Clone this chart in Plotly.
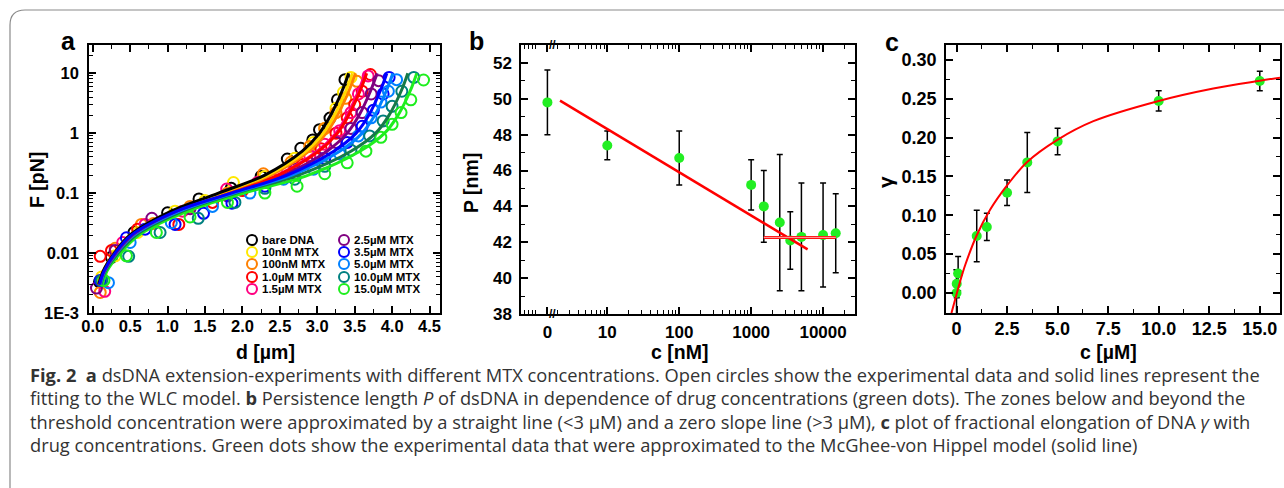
import plotly.graph_objects as go

W, H = 1284, 488

# ---- panel a: force-extension data (d in um, F in pN) ----
labels_a = ['bare DNA', '10nM MTX', '100nM MTX', '1.0µM MTX', '1.5µM MTX',
            '2.5µM MTX', '3.5µM MTX', '5.0µM MTX', '10.0µM MTX', '15.0µM MTX']
circle_colors = ['#000000', '#FFE800', '#FF8000', '#FF0000', '#FF0080',
                 '#800080', '#0000FF', '#0080FF', '#008080', '#1EEE1E']
fit_colors = ['#000000', '#FFD800', '#FF8000', '#FF0000', '#FF0080',
              '#800080', '#0000FF', '#0080FF', '#167A48', '#1EEE1E']

fit_force = [0.003, 0.005, 0.01, 0.02, 0.05, 0.1, 0.2, 0.5, 1, 2, 5, 10]
fit_bare = [0.08, 0.14, 0.29, 0.50, 1.05, 1.68, 2.30, 2.80, 3.03, 3.18, 3.33, 3.42]
fit_10nm = [0.08, 0.14, 0.29, 0.50, 1.06, 1.70, 2.34, 2.85, 3.08, 3.23, 3.38, 3.47]
fit_100nm = [0.08, 0.14, 0.29, 0.51, 1.07, 1.72, 2.38, 2.89, 3.12, 3.27, 3.42, 3.51]
fit_1um = [0.08, 0.15, 0.30, 0.52, 1.10, 1.78, 2.48, 3.02, 3.27, 3.42, 3.57, 3.66]
fit_1_5um = [0.08, 0.15, 0.30, 0.52, 1.10, 1.78, 2.47, 3.00, 3.25, 3.40, 3.55, 3.64]
fit_2_5um = [0.09, 0.15, 0.31, 0.53, 1.12, 1.82, 2.55, 3.13, 3.40, 3.56, 3.71, 3.80]
fit_3_5um = [0.09, 0.15, 0.30, 0.52, 1.12, 1.85, 2.60, 3.22, 3.52, 3.69, 3.84, 3.93]
fit_5um = [0.10, 0.16, 0.32, 0.55, 1.16, 1.88, 2.66, 3.30, 3.60, 3.77, 3.92, 4.01]
fit_10um = [0.11, 0.17, 0.34, 0.58, 1.20, 1.92, 2.75, 3.45, 3.78, 3.96, 4.12, 4.21]
fit_15um = [0.13, 0.19, 0.37, 0.62, 1.27, 2.02, 2.88, 3.57, 3.90, 4.08, 4.24, 4.33]

d_bare = [0.09, 0.25, 0.55, 1.0, 1.42, 1.85, 2.25, 2.6, 2.78, 2.94, 3.03, 3.17, 3.27, 3.37]
f_bare = [0.0033, 0.0085, 0.022, 0.047, 0.08, 0.12, 0.19, 0.37, 0.56, 0.77, 1.14, 1.78, 3.6, 7.8]
d_10nm = [0.12, 0.3, 0.6, 1.1, 1.5, 1.88, 2.3, 2.7, 2.95, 3.1, 3.25, 3.35, 3.45]
f_10nm = [0.004, 0.009, 0.022, 0.05, 0.075, 0.15, 0.19, 0.38, 0.7, 1.2, 2.6, 4.8, 8.5]
d_100nm = [0.1, 0.3, 0.65, 0.81, 1.3, 1.8, 2.28, 2.65, 2.9, 3.1, 3.25, 3.38, 3.53]
f_100nm = [0.0022, 0.012, 0.03, 0.031, 0.06, 0.1, 0.21, 0.33, 0.6, 1.2, 2.2, 3.8, 7.3]
d_1um = [0.1, 0.25, 0.6, 1.15, 1.6, 2.0, 2.4, 2.8, 3.05, 3.25, 3.4, 3.5, 3.6, 3.71]
f_1um = [0.0088, 0.011, 0.025, 0.030, 0.07, 0.11, 0.17, 0.3, 0.55, 1.0, 1.8, 3.0, 5.0, 9.5]
d_1_5um = [0.16, 0.4, 0.7, 1.2, 1.79, 2.2, 2.6, 2.9, 3.1, 3.3, 3.45, 3.55, 3.68]
f_1_5um = [0.0023, 0.015, 0.03, 0.05, 0.117, 0.15, 0.24, 0.42, 0.65, 1.1, 2.2, 4.5, 9.0]
d_2_5um = [0.05, 0.3, 0.79, 1.3, 1.8, 2.3, 2.7, 3.0, 3.25, 3.45, 3.6, 3.72, 3.82]
f_2_5um = [0.0026, 0.011, 0.038, 0.055, 0.09, 0.15, 0.25, 0.4, 0.7, 1.2, 2.2, 4.5, 7.5]
d_3_5um = [0.1, 0.45, 0.7, 1.1, 1.48, 1.86, 2.3, 2.7, 3.1, 3.4, 3.6, 3.75, 3.88, 3.96]
f_3_5um = [0.0035, 0.018, 0.025, 0.03, 0.046, 0.068, 0.13, 0.21, 0.38, 0.7, 1.3, 2.4, 4.5, 8.5]
d_5um = [0.21, 0.5, 1.05, 1.6, 2.1, 2.55, 2.95, 3.3, 3.55, 3.72, 3.85, 3.95, 4.06]
f_5um = [0.0032, 0.015, 0.032, 0.06, 0.1, 0.17, 0.25, 0.45, 0.9, 1.8, 3.3, 5.0, 7.8]
d_10um = [0.12, 0.48, 0.9, 1.41, 1.9, 2.3, 2.7, 3.1, 3.45, 3.7, 3.88, 4.0, 4.13, 4.29]
f_10um = [0.0035, 0.0088, 0.022, 0.038, 0.07, 0.12, 0.17, 0.28, 0.52, 0.9, 1.6, 2.8, 5.0, 8.5]
d_15um = [0.15, 0.45, 0.85, 1.3, 1.8, 2.3, 2.73, 3.1, 3.4, 3.65, 3.85, 4.0, 4.12, 4.25, 4.42]
f_15um = [0.0035, 0.009, 0.022, 0.04, 0.07, 0.1, 0.13, 0.21, 0.32, 0.5, 0.85, 1.4, 2.2, 3.6, 7.7]

# ---- panel b: persistence length vs concentration (nM) ----
p_conc = [0, 10, 100, 1000, 1500, 2500, 3500, 5000, 10000, 15000]
p_val = [49.8, 47.4, 46.7, 45.2, 44.0, 43.1, 42.1, 42.3, 42.4, 42.5]
p_err = [1.8, 0.8, 1.5, 1.4, 2.0, 3.8, 1.6, 3.0, 2.9, 2.2]
slope_c = [2.2, 6100]
slope_p = [49.9, 41.6]
plateau_c = [1500, 15000]
plateau_p = [42.27, 42.27]
b_ticks = [0, 10, 100, 1000, 10000]

# ---- panel c: fractional elongation vs concentration (uM) ----
g_conc = [0, 0.01, 0.08, 1.0, 1.5, 2.5, 3.5, 5.0, 10.0, 15.0]
g_val = [0.000, 0.012, 0.025, 0.0733, 0.085, 0.129, 0.168, 0.195, 0.247, 0.2726]
g_err = [0.03, 0.018, 0.022, 0.033, 0.0176, 0.0163, 0.0386, 0.017, 0.013, 0.0126]
mvh_c = [-0.25, -0.115, 0.0, 0.18, 0.43, 0.99, 1.66, 2.49, 3.47, 4.99, 6.77, 10.0, 12.7, 15.0, 16.0]
mvh_g = [-0.0257, -0.0129, -0.002, 0.015, 0.036, 0.0737, 0.107, 0.138, 0.168, 0.197, 0.221, 0.247, 0.263, 0.273, 0.277]

ZERO_POS = 1.47  # where the "0" category sits left of the axis break

circles = [(d_bare, f_bare), (d_10nm, f_10nm), (d_100nm, f_100nm), (d_1um, f_1um),
           (d_1_5um, f_1_5um), (d_2_5um, f_2_5um), (d_3_5um, f_3_5um), (d_5um, f_5um),
           (d_10um, f_10um), (d_15um, f_15um)]
fits = [fit_bare, fit_10nm, fit_100nm, fit_1um, fit_1_5um, fit_2_5um, fit_3_5um,
        fit_5um, fit_10um, fit_15um]

fig = go.Figure()

for (dx, fy), col in zip(circles, circle_colors):
    fig.add_trace(go.Scatter(x=dx, y=fy, mode='markers', xaxis='x', yaxis='y',
                             marker=dict(symbol='circle-open', size=11, color=col,
                                         line=dict(width=2, color=col))))
for i in [9, 8, 7, 5, 4, 3, 2, 1, 0, 6]:
    fig.add_trace(go.Scatter(x=fits[i], y=fit_force, mode='lines', xaxis='x', yaxis='y',
                             line=dict(color=fit_colors[i], width=3, shape='spline')))

green = '#22EE22'
p_x = [ZERO_POS if c == 0 else c for c in p_conc]
fig.add_trace(go.Scatter(x=p_x, y=p_val, mode='markers', xaxis='x2', yaxis='y2',
                         marker=dict(size=10, color=green),
                         error_y=dict(type='data', array=p_err, color='black',
                                      thickness=1.5, width=3)))
fig.add_trace(go.Scatter(x=slope_c, y=slope_p, mode='lines', xaxis='x2', yaxis='y2',
                         line=dict(color='#FF0000', width=2.5)))
# plateau drawn as a thin double line, like the original
fig.add_trace(go.Scatter(x=plateau_c, y=plateau_p, mode='lines', xaxis='x2', yaxis='y2',
                         line=dict(color='#FF1010', width=3)))
fig.add_trace(go.Scatter(x=plateau_c, y=plateau_p, mode='lines', xaxis='x2', yaxis='y2',
                         line=dict(color='#FFA0A0', width=1)))

fig.add_trace(go.Scatter(x=g_conc, y=g_val, mode='markers', xaxis='x3', yaxis='y3',
                         marker=dict(size=10, color=green),
                         error_y=dict(type='data', array=g_err, color='black',
                                      thickness=1.5, width=3)))
fig.add_trace(go.Scatter(x=mvh_c, y=mvh_g, mode='lines', xaxis='x3', yaxis='y3',
                         line=dict(color='#FF0000', width=2, shape='spline')))


def px_x(x):
    return x / W


def px_y(y):
    return 1 - y / H


def tick_font(size):
    return dict(family='Liberation Sans', size=size, color='black', weight='bold')


axis_style = dict(showline=True, linecolor='black', linewidth=1.5, mirror='allticks',
                  ticks='inside', ticklen=7, tickwidth=1.5, tickcolor='black',
                  showgrid=False, zeroline=False, automargin=False)
minor_style = dict(ticks='inside', ticklen=4, tickwidth=1.2, tickcolor='black', showgrid=False)

fig.update_layout(
    width=W, height=H, margin=dict(l=0, r=0, t=0, b=0, autoexpand=False),
    paper_bgcolor='white', plot_bgcolor='white', showlegend=False,
    xaxis=dict(domain=[px_x(89), px_x(440)], anchor='y', range=[-0.05, 4.64],
               dtick=0.5, tick0=0, tickformat='.1f', ticklabelstandoff=-3,
               tickfont=tick_font(16.5),
               minor=dict(dtick=0.25, **minor_style), **axis_style),
    yaxis=dict(domain=[px_y(313), px_y(45)], anchor='x', type='log', range=[-3, 1.47],
               tickmode='array', tickvals=[0.001, 0.01, 0.1, 1, 10],
               ticktext=['1E-3', '0.01', '0.1', '1', '10'], ticklabelstandoff=5,
               tickfont=tick_font(16.5),
               minor=dict(dtick='D1', **minor_style), **axis_style),
    xaxis2=dict(domain=[px_x(521), px_x(855)], anchor='y2', type='log', range=[-0.2, 4.444],
                tickmode='array', tickvals=[ZERO_POS if t == 0 else t for t in b_ticks],
                ticktext=[str(t) for t in b_ticks], ticklabelstandoff=2,
                tickfont=tick_font(17),
                minor=dict(dtick='D1', **minor_style), **axis_style),
    yaxis2=dict(domain=[px_y(314), px_y(45)], anchor='x2', range=[38, 53],
                dtick=2, tick0=38, ticklabelstandoff=4, tickfont=tick_font(17),
                minor=dict(dtick=1, **minor_style), **axis_style),
    xaxis3=dict(domain=[px_x(946), px_x(1280)], anchor='y3', range=[-0.52, 16.0],
                tickmode='array', tickvals=[0, 2.5, 5, 7.5, 10, 12.5, 15],
                ticktext=['0', '2.5', '5.0', '7.5', '10.0', '12.5', '15.0'], ticklabelstandoff=-1,
                tickfont=tick_font(18),
                minor=dict(dtick=1.25, tick0=0, **minor_style), **axis_style),
    yaxis3=dict(domain=[px_y(313), px_y(45)], anchor='x3', range=[-0.0257, 0.319],
                dtick=0.05, tick0=0, tickformat='.2f', ticklabelstandoff=4,
                tickfont=tick_font(18),
                minor=dict(dtick=0.025, tick0=0, **minor_style), **axis_style),
)

ann = []
bold = dict(family='Liberation Sans', color='black', weight='bold')


def label(x, y, text, size, angle=0):
    ann.append(dict(x=px_x(x), y=px_y(y), xref='paper', yref='paper', text=text,
                    showarrow=False, textangle=angle, xanchor='center', yanchor='middle',
                    font=dict(size=size, **bold)))


label(68, 41, 'a', 25)
label(476, 41, 'b', 25)
label(892, 42, 'c', 25)
label(265, 352, 'd [µm]', 19.5)
label(37, 180, 'F [pN]', 19.5, -90)
label(680, 352, 'c [nM]', 19.5)
label(471, 183, 'P [nm]', 19.5, -90)
label(1108, 352, 'c [µM]', 19.5)
label(885, 182, 'γ', 21, -90)
label(552, 45, '//', 12)
label(552, 314, '//', 12)

# legend of panel a
legend_rows = [240, 252, 264, 277, 289]
shapes = []
for i, (name, col) in enumerate(zip(labels_a, circle_colors)):
    cx = 252 if i < 5 else 344
    cy = legend_rows[i % 5]
    r = 5
    shapes.append(dict(type='circle', xref='paper', yref='paper',
                       x0=px_x(cx - r), x1=px_x(cx + r), y0=px_y(cy + r), y1=px_y(cy - r),
                       line=dict(color=col, width=2)))
    ann.append(dict(x=px_x(cx + 8), y=px_y(cy), xref='paper', yref='paper', text=name,
                    showarrow=False, xanchor='left', yanchor='middle',
                    font=dict(size=11.5, **bold)))

caption = [
    '<b>Fig. 2</b>&nbsp; <b>a</b> dsDNA extension-experiments with different MTX concentrations. '
    'Open circles show the experimental data and solid lines represent the',
    'fitting to the WLC model. <b>b</b> Persistence length <i>P</i> of dsDNA in dependence of drug '
    'concentrations (green dots). The zones below and beyond the',
    'threshold concentration were approximated by a straight line (&lt;3 µM) and a zero slope line '
    '(&gt;3 µM), <b>c</b> plot of fractional elongation of DNA <i>γ</i> with',
    'drug concentrations. Green dots show the experimental data that were approximated to the '
    'McGhee-von Hippel model (solid line)',
]
for k, line in enumerate(caption):
    ann.append(dict(x=px_x(28), y=px_y(374 + 23.5 * k), xref='paper', yref='paper',
                    text=line, showarrow=False, xanchor='left', yanchor='middle',
                    font=dict(family='Open Sans', size=18.3, color='#333333')))

# rounded frame around the figure
shapes.append(dict(type='path', xref='paper', yref='paper',
                   path=f'M {px_x(10)} {px_y(490)} L {px_x(10)} {px_y(25)} '
                        f'Q {px_x(10)} {px_y(10)} {px_x(25)} {px_y(10)} L {px_x(1290)} {px_y(10)}',
                   line=dict(color='#8a8a8a', width=1.2)))

fig.update_layout(annotations=ann, shapes=shapes)

fig.write_html('out.html', config={'displayModeBar': False},
               post_script="document.body.style.margin='0';document.body.style.overflow='hidden';")
